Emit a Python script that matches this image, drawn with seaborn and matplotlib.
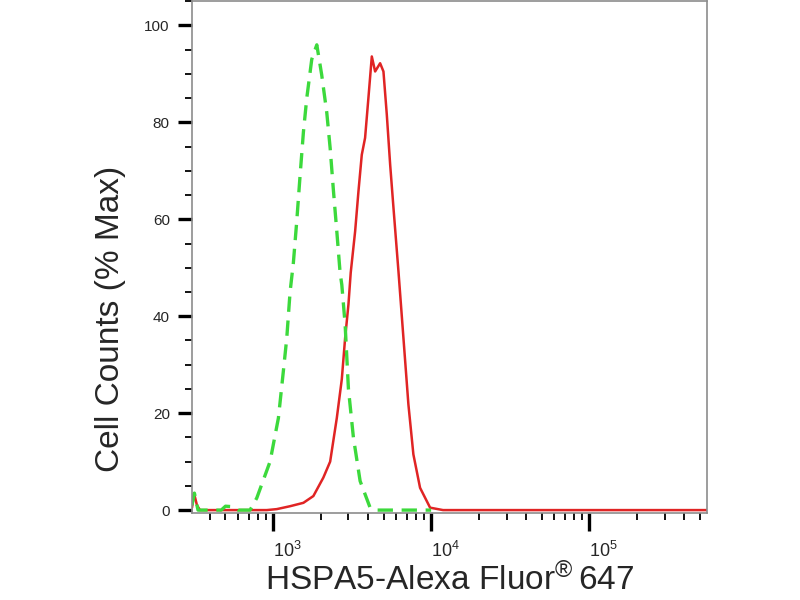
import matplotlib
matplotlib.use("Agg")
import matplotlib.pyplot as plt
from matplotlib.ticker import LogLocator, MultipleLocator
import seaborn as sns
import pandas as pd

# isotype control (green dashed)
ctrl_x = [307, 318, 335, 470, 500, 560, 600, 715, 789, 957, 1081, 1162, 1221, 1281, 1344,
          1412, 1482, 1556, 1634, 1757, 1891, 2031, 2187, 2297, 2411, 2531, 2655, 2722,
          2857, 2998, 3223, 3554, 4111, 4500, 10000]
ctrl_y = [1.0, 3.5, 0, 0, 0.8, 0.7, 0, 0, 2.5, 10, 19, 28.7, 35.5, 45, 51,
          59.6, 69, 78, 85, 93, 96, 89.8, 82, 74.7, 65.8, 57.5, 49, 46.5,
          38.3, 25, 15, 6, 0.5, 0, 0]

# HSPA5 stained (red solid)
hspa5_x = [307, 316, 330, 345, 912, 1055, 1281, 1556, 1799, 2080, 2297, 2531, 2722, 2857,
           2998, 3100, 3305, 3470, 3641, 3821, 4010, 4214, 4423, 4757, 4993, 5243, 5505,
           5780, 6212, 6681, 7182, 7722, 8511, 9852, 11900, 558000]
hspa5_y = [0.5, 3.5, 1.0, 0, 0, 0.2, 0.8, 1.5, 2.9, 6.7, 10, 19, 27, 35.5,
           42.4, 49, 57.5, 65.8, 73.3, 76.8, 85, 93.6, 90.5, 92.2, 90.5, 81.6, 71.3,
           62.3, 49.3, 35.5, 21.8, 11.5, 4.6, 0.5, 0, 0]

x_label = "HSPA5-Alexa Fluor$^{\u00ae}\\,$647"
y_label = "Cell Counts (% Max)"

sns.set_style("ticks")
plt.rcParams['font.family'] = ['Liberation Sans', 'DejaVu Sans']
plt.rcParams['mathtext.default'] = 'regular'

fig = plt.figure(figsize=(8, 6), dpi=100)
ax = fig.add_axes([0.24, 0.145, 0.644, 0.853])

red = pd.DataFrame({"x": hspa5_x, "y": hspa5_y})
green = pd.DataFrame({"x": ctrl_x, "y": ctrl_y})
sns.lineplot(data=red, x="x", y="y", ax=ax, color="#e02424", linewidth=1.8, sort=False)
sns.lineplot(data=green, x="x", y="y", ax=ax, color="#3cd93c", linewidth=2.4,
             linestyle=(0, (4.6, 2.6)), sort=False)

ax.set_xscale("log")
ax.set_xlim(307, 558000)
ax.set_ylim(-0.6, 105)

ax.yaxis.set_major_locator(MultipleLocator(20))
ax.yaxis.set_minor_locator(MultipleLocator(5))
ax.xaxis.set_major_locator(LogLocator(base=10, numticks=10))
ax.xaxis.set_minor_locator(LogLocator(base=10, subs=range(2, 10), numticks=20))

for s in ax.spines.values():
    s.set_color("#8c8c8c")
    s.set_linewidth(1.2)

ax.tick_params(axis="both", which="major", length=10, width=2.4, color="black",
               labelsize=11, pad=6)
ax.tick_params(axis="both", which="minor", length=5, width=1.3, color="black")
ax.tick_params(axis="x", which="major", length=13, pad=7, labelsize=13)
for lab in ax.get_xticklabels():
    lab.set_ha("left")

ax.set_xlabel(x_label, fontsize=24)
ax.set_ylabel(y_label, fontsize=24)
ax.xaxis.set_label_coords(0.5, -0.098)
ax.yaxis.set_label_coords(-0.128, 0.38)

fig.savefig("out.png", dpi=100)
